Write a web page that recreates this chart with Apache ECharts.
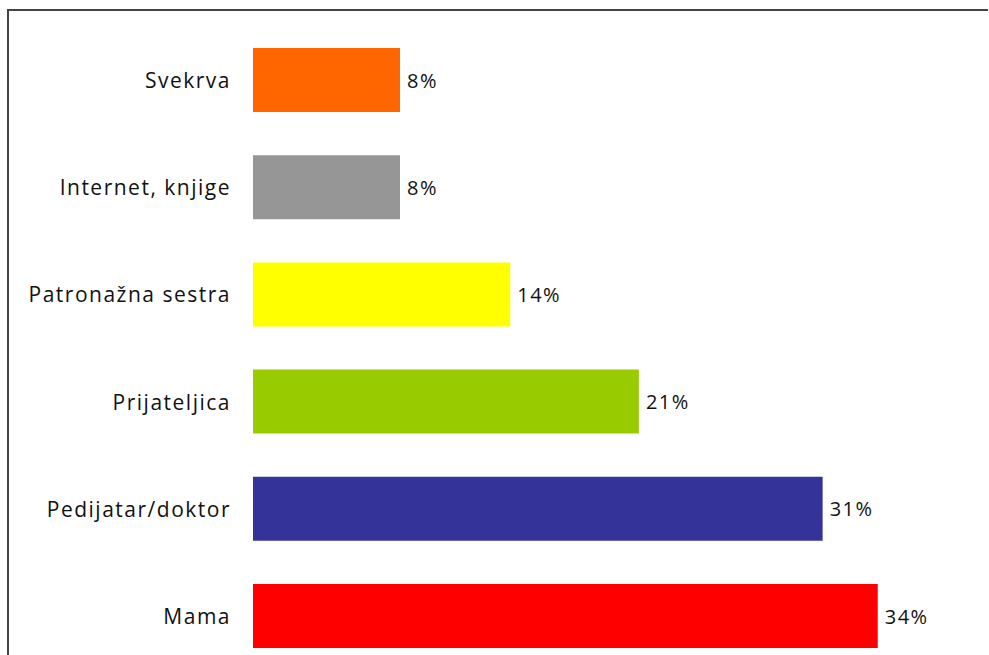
<!DOCTYPE html>
<html lang="hr">
  <head>
    <meta charset="UTF-8" />
    <title>Izvori informacija</title>
    <script src="https://cdn.jsdelivr.net/npm/echarts@6/dist/echarts.min.js"></script>
    <style>
      html, body { margin: 0; padding: 0; background: #fff; }
      /* razmak slova kao u originalu */
      #main text { letter-spacing: 1.5px; }
    </style>
  </head>
  <body>
    <div id="main" style="width: 989px; height: 655px"></div>
    <script>
      // podaci (odozgo prema dolje)
      var categories = ['Svekrva', 'Internet, knjige', 'Patronažna sestra', 'Prijateljica', 'Pedijatar/doktor', 'Mama'];
      var values = [8, 8, 14, 21, 31, 34];
      var barColors = ['#FF6600', '#969696', '#FFFF00', '#99CC00', '#333399', '#FF0000'];

      var mCharts = echarts.init(document.getElementById('main'), null, { renderer: 'svg' });

      var option = {
        animation: false,
        textStyle: { fontFamily: 'Open Sans' },
        grid: {
          left: 253,
          right: 1,
          top: 26.4,
          height: 643.2, // donji dio je odrezan kao na slici
          outerBoundsMode: 'none',
          containLabel: false,
        },
        xAxis: {
          type: 'value',
          min: 0,
          max: 40,
          show: false,
        },
        yAxis: {
          type: 'category',
          inverse: true,
          data: categories,
          axisLine: { show: false },
          axisTick: { show: false },
          axisLabel: {
            margin: 22,
            fontSize: 21,
            color: '#111',
          },
        },
        series: [
          {
            type: 'bar',
            barWidth: 64,
            data: values.map(function (v, i) {
              return { value: v, itemStyle: { color: barColors[i] } };
            }),
            label: {
              show: true,
              position: 'right',
              distance: 7,
              fontSize: 20,
              color: '#111',
              formatter: '{c}%',
            },
          },
        ],
        // okvir grafikona (gornji i lijevi rub)
        graphic: [
          {
            type: 'polyline',
            shape: { points: [[8, 655], [8, 10], [988, 10]] },
            style: { stroke: '#444', lineWidth: 2, fill: null },
            silent: true,
          },
        ],
      };

      mCharts.setOption(option);
    </script>
  </body>
</html>
